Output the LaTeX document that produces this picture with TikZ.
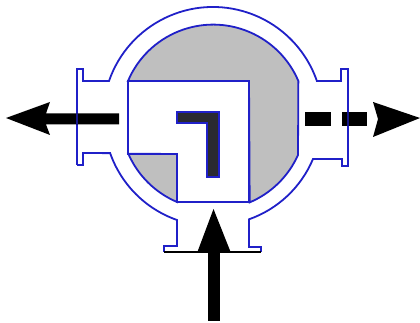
\documentclass[tikz,border=0pt]{standalone}
\definecolor{wall}{HTML}{2020C8}
\definecolor{fillgrey}{HTML}{BFBFBF}
\definecolor{core}{HTML}{2A2A30}
\tikzset{
  wallline/.style={draw=wall,line width=1.35pt,line join=miter},
  greypart/.style={fill=fillgrey,wallline},
  flow/.style={fill=black,draw=none},
}
\begin{document}
\begin{tikzpicture}[x=0.75pt,y=0.75pt]
\useasboundingbox (0,0) rectangle (420,323);
% grey chambers
\path[greypart] (128,242) arc[start angle=157,end angle=23,radius=69.4pt]
  -- (298,168) arc[start angle=-24.1,end angle=-67,radius=69.4pt]
  -- (249,242) -- cycle;
\path[greypart] (177,121) arc[start angle=-113,end angle=-156.5,radius=69.4pt]
  -- (177,169) -- cycle;
% rotor outline
\draw[wallline] (128,242) -- (249,242) -- (249,121) -- (177,121) -- (177,169) -- (128,169) -- cycle;
% body outline
\draw[wallline] (77,158) -- (77,254) -- (83,254) -- (83,242) -- (109,242)
  arc[start angle=160.9,end angle=19.1,radius=82.5pt]
  -- (341,242) -- (341,254) -- (348,254) -- (348,157) -- (342,157) -- (342,164) -- (313,164)
  arc[start angle=-22.8,end angle=-70.6,radius=81.4pt]
  -- (249,76) -- (261,76) -- (261,71);
\draw[wallline] (164,71) -- (164,77) -- (177,77) -- (177,103)
  arc[start angle=-109.3,end angle=-160.7,radius=81.75pt]
  -- (83,170) -- (83,158) -- (77,158);
\draw[black,line width=1.2pt] (164,71) -- (261,71);
% arrows
\path[flow] (119,209.5) -- (46,209.5) -- (50,221) -- (6,205) -- (50,188) -- (46,198.5) -- (119,198.5) -- cycle;
\path[flow] (305,211) rectangle (331,197);
\path[flow] (342,211) rectangle (367,197);
\path[flow] (373,221) -- (420,205) -- (373,186) -- (378,204) -- cycle;
\path[flow] (208,2) rectangle (220,80);
\path[flow] (213.5,114) -- (231,70) -- (197,70) -- cycle;
% thin wall line seen over the arrows
\draw[wall!70!black,line width=0.9pt] (77,198) -- (77,210);
\draw[wall!70!black,line width=0.9pt] (348,197) -- (348,211);
% inner core
\path[fill=core,draw=wall,line width=1.5pt,line join=miter] (177,210.5) -- (218.5,210.5) -- (218.5,145.5) -- (206.5,145.5) -- (206.5,199.5) -- (177,199.5) -- cycle;
\end{tikzpicture}
\end{document}
